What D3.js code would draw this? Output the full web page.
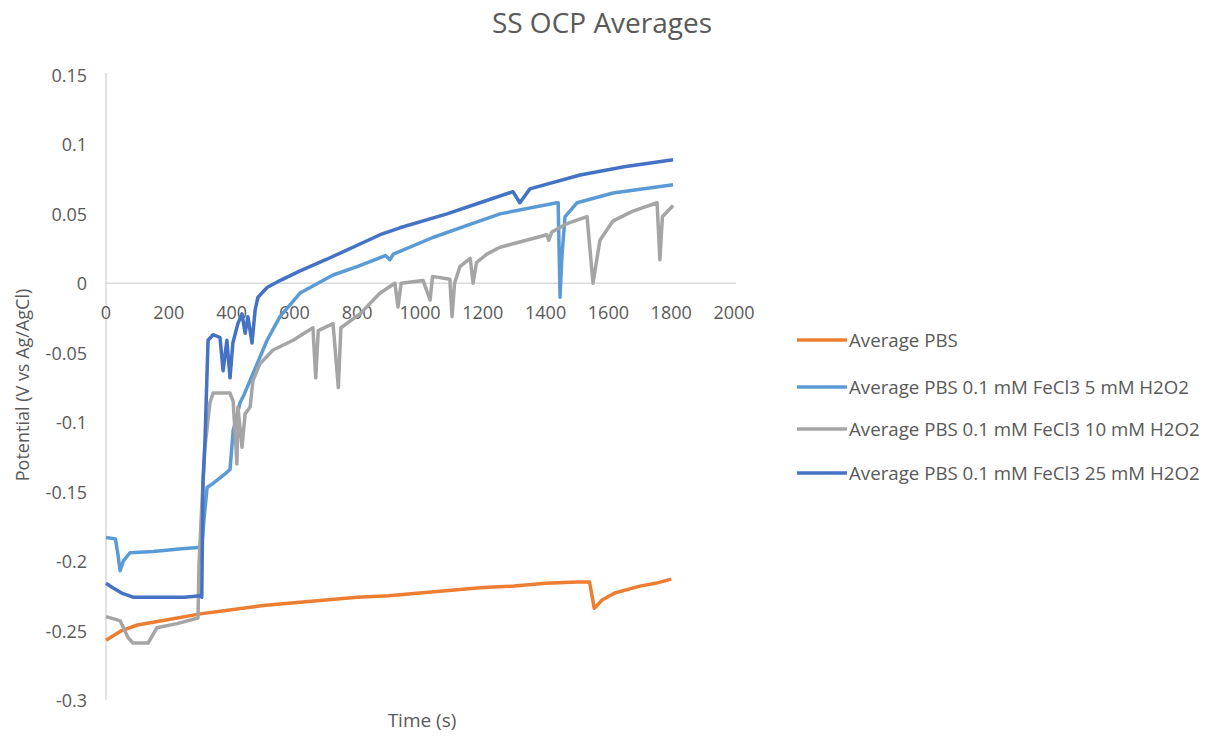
<!DOCTYPE html>
<meta charset="utf-8">
<script src="https://d3js.org/d3.v7.min.js"></script>
<style>
  body { margin: 0; background: #fff; }
  text { font-family: "Open Sans", "Liberation Sans", sans-serif; fill: #595959; }
</style>
<div id="chart"></div>
<script>
// series data: [time (s), potential (V)]
var pbs = [[0,-0.257],[50,-0.250],[100,-0.246],[200,-0.242],[300,-0.238],[400,-0.235],[500,-0.232],
  [600,-0.230],[700,-0.228],[800,-0.226],[900,-0.225],[1000,-0.223],[1100,-0.221],[1200,-0.219],
  [1300,-0.218],[1400,-0.216],[1500,-0.215],[1540,-0.215],[1555,-0.234],[1580,-0.228],[1620,-0.223],
  [1700,-0.218],[1750,-0.216],[1800,-0.213]];

var fe5 = [[0,-0.183],[30,-0.184],[38,-0.195],[45,-0.207],[55,-0.200],[76,-0.194],[150,-0.193],
  [250,-0.191],[305,-0.190],[312,-0.170],[322,-0.147],[341,-0.144],[380,-0.137],[395,-0.134],
  [405,-0.106],[427,-0.086],[440,-0.080],[468,-0.065],[513,-0.041],[554,-0.024],[618,-0.007],
  [691,0.002],[723,0.006],[800,0.012],[890,0.020],[904,0.017],[915,0.021],[1041,0.033],[1191,0.045],
  [1255,0.050],[1436,0.058],[1440,0.058],[1446,-0.010],[1452,0.020],[1462,0.048],[1500,0.058],
  [1615,0.065],[1806,0.071]];

var fe10 = [[0,-0.240],[30,-0.242],[45,-0.243],[70,-0.255],[86,-0.259],[134,-0.259],[162,-0.248],
  [226,-0.245],[293,-0.241],[296,-0.204],[305,-0.160],[315,-0.118],[331,-0.086],[341,-0.079],
  [395,-0.079],[405,-0.085],[417,-0.130],[420,-0.089],[433,-0.118],[443,-0.094],[459,-0.089],
  [468,-0.070],[490,-0.058],[532,-0.048],[596,-0.041],[659,-0.032],[668,-0.068],[676,-0.034],
  [723,-0.029],[740,-0.075],[748,-0.032],[809,-0.022],[873,-0.007],[920,0.000],[930,-0.017],
  [940,0.000],[1010,0.002],[1032,-0.012],[1040,0.005],[1095,0.003],[1102,-0.024],[1110,0.000],
  [1127,0.012],[1160,0.018],[1169,0.000],[1180,0.015],[1213,0.021],[1255,0.026],[1404,0.035],
  [1410,0.031],[1420,0.037],[1468,0.043],[1532,0.048],[1551,0.000],[1573,0.031],[1615,0.045],
  [1678,0.052],[1755,0.058],[1764,0.017],[1772,0.048],[1806,0.056]];

var fe25 = [[0,-0.216],[20,-0.219],[50,-0.223],[86,-0.226],[150,-0.226],[250,-0.226],[300,-0.225],
  [305,-0.226],[309,-0.142],[315,-0.115],[325,-0.041],[341,-0.037],[363,-0.039],[373,-0.063],
  [385,-0.041],[395,-0.068],[404,-0.043],[420,-0.029],[433,-0.022],[443,-0.036],[452,-0.024],
  [465,-0.043],[475,-0.019],[484,-0.010],[513,-0.003],[554,0.002],[618,0.009],[700,0.017],
  [873,0.035],[936,0.040],[1086,0.050],[1191,0.058],[1296,0.066],[1318,0.058],[1350,0.068],
  [1510,0.078],[1650,0.084],[1806,0.089]];

var seriesNames = ["Average PBS", "Average PBS 0.1 mM FeCl3 5 mM H2O2",
  "Average PBS 0.1 mM FeCl3 10 mM H2O2", "Average PBS 0.1 mM FeCl3 25 mM H2O2"];
var seriesColors = ["#ED7D31", "#5B9BD5", "#A5A5A5", "#4472C4"];
var xTicks = [0, 200, 400, 600, 800, 1000, 1200, 1400, 1600, 1800, 2000];
var yTicks = [0.15, 0.1, 0.05, 0, -0.05, -0.1, -0.15, -0.2, -0.25, -0.3];

var allSeries = [pbs, fe5, fe10, fe25];

var width = 1209, height = 736;
var svg = d3.select("#chart").append("svg")
    .attr("width", width).attr("height", height);

var x = d3.scaleLinear().domain([0, 2000]).range([106, 734]);
var y = d3.scaleLinear().domain([-0.3, 0.15]).range([700, 75]);

// title
svg.append("text")
    .attr("x", 602).attr("y", 33)
    .attr("text-anchor", "middle")
    .style("font-size", "28px")
    .text("SS OCP Averages");

// y axis line + labels
svg.append("line")
    .attr("x1", x(0)).attr("x2", x(0))
    .attr("y1", y(0.15) - 2).attr("y2", y(-0.3))
    .attr("stroke", "#d9d9d9").attr("stroke-width", 1.5);

svg.append("g").selectAll("text")
  .data(yTicks)
  .enter().append("text")
    .attr("x", 87)
    .attr("y", function(d) { return y(d) + 7; })
    .attr("text-anchor", "end")
    .style("font-size", "18px")
    .text(function(d) { return d; });

// x axis at zero
svg.append("line")
    .attr("x1", x(0)).attr("x2", x(2000) + 2)
    .attr("y1", y(0)).attr("y2", y(0))
    .attr("stroke", "#d9d9d9").attr("stroke-width", 1.5);

svg.append("g").selectAll("text")
  .data(xTicks)
  .enter().append("text")
    .attr("x", function(d) { return x(d); })
    .attr("y", y(0) + 36)
    .attr("text-anchor", "middle")
    .style("font-size", "18px")
    .text(function(d) { return d; });

// axis titles
svg.append("text")
    .attr("transform", "translate(29,385) rotate(-90)")
    .attr("text-anchor", "middle")
    .style("font-size", "18px")
    .text("Potential (V vs Ag/AgCl)");

svg.append("text")
    .attr("x", 422).attr("y", 727)
    .attr("text-anchor", "middle")
    .style("font-size", "19px")
    .text("Time (s)");

// lines
var line = d3.line()
    .x(function(d) { return x(d[0]); })
    .y(function(d) { return y(d[1]); });

svg.append("g").selectAll("path")
  .data(allSeries)
  .enter().append("path")
    .attr("d", line)
    .attr("fill", "none")
    .attr("stroke", function(d, i) { return seriesColors[i]; })
    .attr("stroke-width", 3.5)
    .attr("stroke-linejoin", "round");

// legend
var legendY = [340, 387, 429, 473];
var legend = svg.append("g").selectAll("g")
  .data(seriesNames)
  .enter().append("g")
    .attr("transform", function(d, i) { return "translate(797," + legendY[i] + ")"; });

legend.append("line")
    .attr("x1", 0).attr("x2", 50)
    .attr("stroke", function(d, i) { return seriesColors[i]; })
    .attr("stroke-width", 3.5);

legend.append("text")
    .attr("x", 52).attr("y", 7)
    .style("font-size", "18.7px")
    .text(function(d) { return d; });
</script>
